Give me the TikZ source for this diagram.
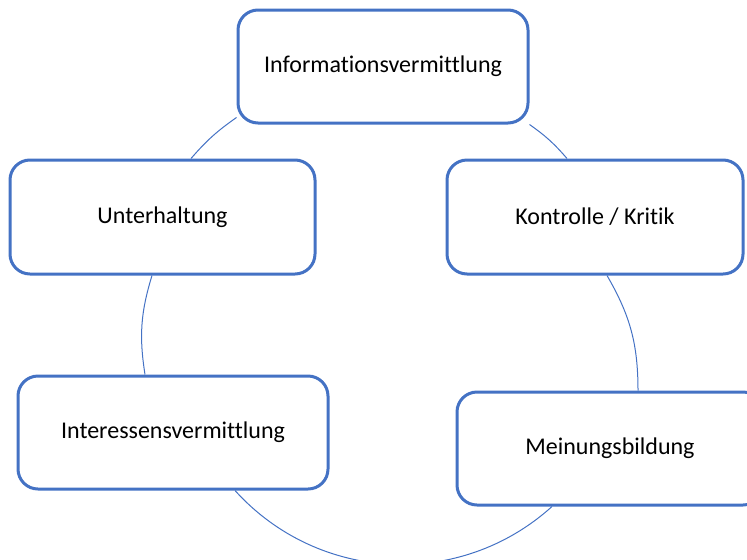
\documentclass[tikz,border=0pt]{standalone}
\usepackage{fontspec}
\setmainfont[Ligatures={NoCommon,NoRare}]{Carlito}
\usepackage{tikz}
\definecolor{smartblue}{HTML}{4472C4}
\tikzstyle{stage}=[draw=smartblue, line width=1.5pt, rounded corners=10pt, fill=white, minimum height=56.5pt, inner sep=0pt, font=\fontsize{12}{14}\selectfont]
\tikzstyle{ring}=[draw=smartblue, line width=0.5pt]

\begin{document}
\begin{tikzpicture}[x=0.5pt,y=0.5pt]
\useasboundingbox (0,0) rectangle (747,559);
\clip (0,0) rectangle (747,559);
\node[stage, minimum width=145pt] (info) at (383,492.5) {Informationsvermittlung};
\node[stage, minimum width=152.5pt, minimum height=57pt] (unterh) at (162.5,342) {Unterhaltung};
\node[stage, minimum width=148pt, minimum height=57pt] (kontr) at (595,342) {Kontrolle / Kritik};
\node[stage, minimum width=155pt] (interess) at (173,126.5) {Interessensvermittlung};
\node[stage, minimum width=153pt] (meinung) at (610,110.5) {Meinungsbildung};
\draw[ring] ([yshift=3.5pt]info.south west) to[bend right=7] ([xshift=14.25pt]unterh.north);
\draw[ring] ([xshift=-5.25pt]unterh.south) to[bend right=13] ([xshift=-14pt]interess.north);
\draw[ring] ([xshift=31pt]interess.south) to[bend right=45] ([xshift=-29pt]meinung.south);
\draw[ring] ([xshift=14pt]meinung.north) to[bend right=15] ([xshift=6pt]kontr.south);
\draw[ring] ([xshift=-14pt]kontr.north) to[bend right=7] (info.south east);
\end{tikzpicture}
\end{document}
